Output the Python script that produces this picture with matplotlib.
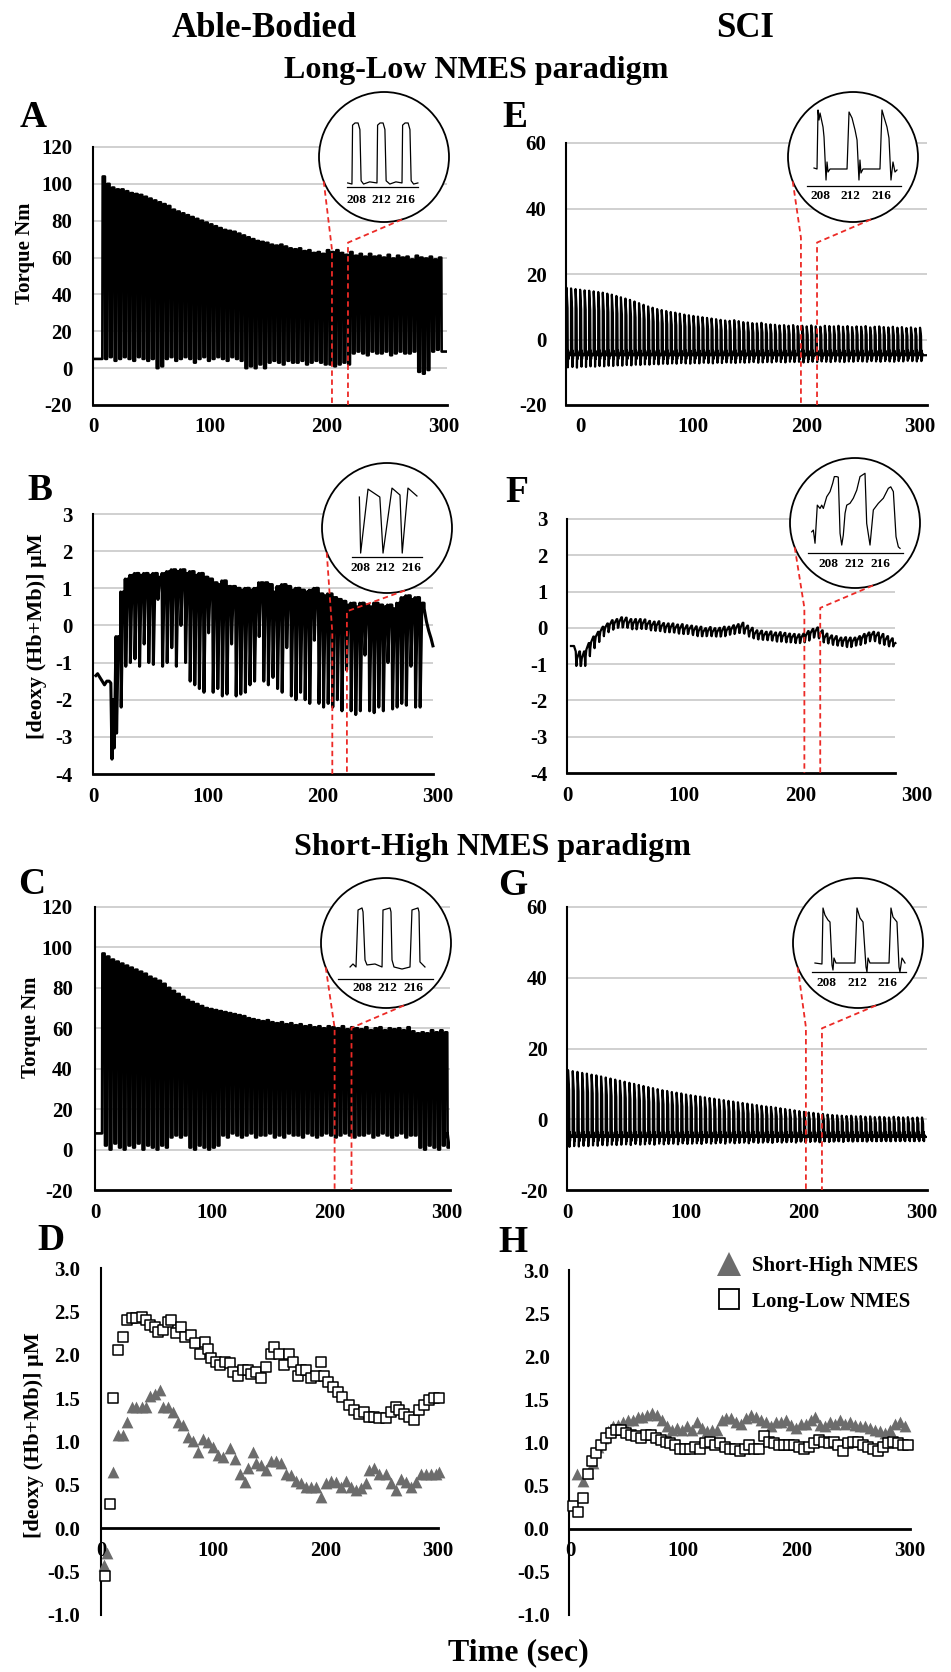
import numpy as np
import matplotlib
matplotlib.use("Agg")
import matplotlib.pyplot as plt
from matplotlib.lines import Line2D
from matplotlib.patches import Circle

# ======================= data =======================
PERIOD = 4.0                       # s between contractions (inset ticks 208/212/216)
X_TICKS = [0, 100, 200, 300]
ZOOM_TICKS = [208, 212, 216]
AB_TORQUE_TICKS = [-20, 0, 20, 40, 60, 80, 100, 120]
SCI_TORQUE_TICKS = [-20, 0, 20, 40, 60]
HB_TICKS = [-4, -3, -2, -1, 0, 1, 2, 3]
HB_MEAN_TICKS = [-1.0, -0.5, 0.0, 0.5, 1.0, 1.5, 2.0, 2.5, 3.0]

# ---- A: able-bodied torque, Long-Low (peak / between-contraction torque, Nm)
A_first = 8.0
A_peaks = [104, 100, 98, 97, 97, 96, 95, 94.5, 94, 93,
           92, 91, 90, 89, 88, 86, 85, 84, 83, 82,
           81, 80, 79, 78, 77, 76, 75, 74.5, 74, 73,
           72, 71, 70, 69, 68.5, 68, 67, 66.5, 67, 66,
           65, 64.5, 65, 63.5, 64, 62.5, 63, 62, 64, 63,
           64, 62.5, 61.5, 63, 61, 62, 60.5, 62, 60.5, 61,
           60, 61.5, 59.5, 61, 60, 60.5, 59, 61, 60, 59.5,
           60.5, 59, 60]
A_bases = [5, 6, 4, 5, 6, 5, 4, 6, 5, 4, 5,
           0, 1,
           5, 6, 4, 5, 6, 5, 3, 5, 6, 4, 5, 6, 5, 4, 6, 5, 4,
           0, 1, 0, 2, 0,
           3, 4, 3, 2, 4, 3, 3, 4, 2, 3, 4, 3, 2,
           2, 1, 2, 3, 2,
           8, 9, 8, 7, 9, 8, 8, 9, 7, 8, 9, 8, 8, 9,
           -2, -3, -1,
           9, 10, 9]
A_pre, A_post = 5.0, 9.0

# ---- C: able-bodied torque, Short-High
C_first = 6.0
C_peaks = [97, 95.5, 94, 93, 92, 91, 90, 89, 88, 87,
           85.5, 84.5, 83.5, 82, 80, 78.5, 77, 75.5, 74, 73,
           72, 71, 70, 69.5, 69, 68.5, 68, 67.5, 67, 66.5,
           66, 65, 64.5, 64, 63.5, 64, 63, 62.5, 63, 62,
           62.5, 61.5, 62, 61, 61.5, 60.5, 61, 60, 61, 60.5,
           60, 61, 59.5, 60.5, 60, 59.5, 60.5, 59, 60, 60.5,
           59, 60, 59.5, 60, 59, 60.5, 58.5, 57.5, 58, 57.5,
           59, 58, 59, 58]
C_bases = [2, 0, 3, 1, 0, 2, 1, 3, 0, 2, 1, 0, 2, 1,
           6, 7, 6, 7,
           1, 0, 2, 1, 0, 1, 2,
           7, 6, 8, 7, 6, 7, 8, 6, 7, 7, 8, 6, 7, 6, 8, 7, 7, 6, 8, 7,
           6, 7, 8, 7, 6, 7, 8, 7, 6, 7, 7, 8, 6, 7, 8, 7, 6, 7, 8, 6, 7, 7,
           1, 0, 2, 1, 0, 2, 1]
C_pre, C_post = 8.0, 8.0

# ---- E: SCI torque, Long-Low (peak and undershoot per contraction, Nm)
E_first = -12.0
E_base = -4.8
E_peaks = [15.8, 15.6, 15.4, 15.2, 15.0, 14.9, 14.7, 14.5, 14.3, 14.0,
           13.7, 13.3, 12.9, 12.5, 12.1, 11.6, 11.1, 10.6, 10.1, 9.7,
           9.3, 9.0, 8.7, 8.4, 8.2, 7.9, 7.6, 7.4, 7.2, 7.0,
           6.8, 6.6, 6.4, 6.2, 6.0, 5.8, 5.7, 5.9, 5.6, 5.3,
           5.2, 5.0, 4.9, 5.1, 4.7, 4.6, 4.5, 4.3, 4.4, 4.2,
           4.4, 4.1, 4.2, 4.0, 4.3, 4.0, 3.9, 4.2, 4.1, 4.0,
           4.2, 3.9, 4.1, 3.8, 4.0, 3.9, 4.1, 3.7, 3.9, 4.0,
           3.8, 3.7, 3.9, 3.6, 3.8, 3.5, 3.7, 3.4, 3.6]
E_lows = [-8.5, -8.4, -8.6, -8.3, -8.4, -8.2, -8.3, -8.1, -8.2, -8.0,
          -8.1, -7.9, -8.0, -7.8, -7.9, -7.7, -7.8, -7.6, -7.7, -7.5,
          -7.6, -7.4, -7.5, -7.3, -7.4, -7.2, -7.3, -7.4, -7.2, -7.3,
          -7.1, -7.2, -7.3, -7.1, -7.2, -7.0, -7.1, -7.2, -7.0, -7.1,
          -7.0, -6.9, -7.1, -7.0, -6.9, -7.0, -6.8, -6.9, -7.0, -6.8,
          -6.9, -6.8, -7.0, -6.9, -6.8, -6.9, -6.7, -6.8, -6.9, -6.7,
          -6.8, -6.9, -6.7, -6.8, -6.6, -6.7, -6.8, -6.6, -6.7, -6.8,
          -6.6, -6.7, -6.8, -6.6, -6.7, -6.5, -6.6, -6.7, -6.6]

# ---- G: SCI torque, Short-High
G_first = 0.0
G_base = -5.0
G_peaks = [13.9, 13.6, 13.4, 13.1, 12.9, 12.6, 12.4, 12.1, 11.8, 11.5,
           11.2, 10.9, 10.6, 10.3, 10.0, 9.7, 9.4, 9.1, 8.8, 8.5,
           8.2, 8.0, 7.7, 7.5, 7.3, 7.0, 6.8, 6.6, 6.4, 6.2,
           6.0, 5.8, 5.6, 5.4, 5.2, 5.0, 4.8, 4.6, 4.4, 4.2,
           4.0, 3.8, 3.6, 3.5, 3.3, 3.1, 2.9, 2.7, 2.5, 2.3,
           2.1, 1.9, 1.8, 1.6, 1.5, 1.3, 1.2, 1.1, 1.0, 0.9,
           1.0, 0.8, 0.9, 0.7, 0.8, 0.6, 0.7, 0.6, 0.5, 0.7,
           0.6, 0.5, 0.6, 0.4, 0.5, 0.5]
G_lows = [-7.8, -7.6, -7.7, -7.5, -7.6, -7.4, -7.5, -7.3, -7.4, -7.2,
          -7.3, -7.2, -7.1, -7.3, -7.0, -7.2, -7.1, -7.0, -7.2, -6.9,
          -7.1, -7.0, -6.9, -7.1, -6.8, -7.0, -6.9, -6.8, -7.0, -6.7,
          -6.9, -6.8, -6.7, -6.9, -6.6, -6.8, -6.7, -6.6, -6.8, -6.5,
          -6.7, -6.6, -6.5, -6.7, -6.4, -6.6, -6.5, -6.4, -6.6, -6.3,
          -6.5, -6.4, -6.3, -6.5, -6.2, -6.4, -6.3, -6.2, -6.4, -6.1,
          -6.3, -6.2, -6.1, -6.3, -6.0, -6.2, -6.1, -6.0, -6.2, -5.9,
          -6.1, -6.0, -5.9, -6.1, -5.8, -6.0]

# ---- B: able-bodied [deoxy(Hb+Mb)], Long-Low (uM): high / low per contraction
B_pre_t = [2.5, 4.0, 6.0, 8.0, 10.0, 12.0, 14.0, 15.5, 16.5, 17.5, 18.5, 19.5]
B_pre_v = [-1.35, -1.3, -1.4, -1.5, -1.6, -1.5, -1.5, -1.55, -3.6, -2.0, -3.3, -1.2]
B_first = 20.0
B_high = [-0.3, 0.9, 1.25, 1.35, 1.4, 1.35, 1.4, 1.35, 1.4, 1.3,
          1.4, 1.45, 1.5, 1.45, 1.5, 1.4, 1.45, 1.35, 1.4, 1.3,
          1.25, 1.15, 1.1, 1.2, 1.05, 1.05, 1.0, 0.95, 1.0, 0.95,
          1.0, 1.15, 1.15, 1.1, 0.9, 1.05, 1.1, 1.05, 0.95, 1.0,
          0.95, 0.9, 0.95, 1.0, 0.85, 0.8, 0.85, 0.75, 0.7, 0.65,
          0.55, 0.6, 0.5, 0.6, 0.55, 0.5, 0.6, 0.55, 0.5, 0.55,
          0.45, 0.6, 0.75, 0.8, 0.7, 0.75, 0.6]
B_low = [-2.9, -2.2, -1.1, -1.0, -0.9, -1.1, -0.5, -1.0, -1.05, 0.7,
         -1.1, -1.0, -0.6, -1.1, 0.0, -1.0, -1.5, -1.6, -1.7, -1.8,
         -0.2, -1.8, -1.7, -1.9, -1.85, -0.5, -1.9, -1.85, -1.8, -1.6,
         -1.5, -0.3, -1.5, -1.6, -1.4, -1.7, -1.8, -0.6, -1.9, -2.0,
         -1.8, -2.0, -2.1, -0.4, -2.1, -2.2, -2.1, -2.2, -2.0, -2.3,
         -1.2, -2.3, -2.4, -2.3, -0.8, -2.3, -2.35, -2.2, -2.3, -1.0,
         -2.25, -2.2, -2.1, -2.15, -1.1, -2.2, -2.2]
B_post_t = [288.0, 290.0, 292.0, 294.0, 295.6]
B_post_v = [0.45, 0.1, -0.15, -0.35, -0.55]

# ---- F: SCI [deoxy(Hb+Mb)], Long-Low: level and half-swing per contraction
F_pre_t = [3.4, 6.0, 7.5]
F_pre_v = [-0.5, -0.5, -0.65]
F_first = 8.0
F_level = [-0.85, -0.85, -0.6, -0.4, -0.25, -0.1, 0.0, 0.08, 0.12, 0.15,
           0.15, 0.12, 0.1, 0.12, 0.1, 0.08, 0.05, 0.05, 0.02, 0.0,
           0.0, -0.02, -0.03, -0.05, -0.05, -0.08, -0.1, -0.12, -0.1, -0.12,
           -0.12, -0.1, -0.08, -0.05, -0.02, 0.0, -0.05, -0.12, -0.18, -0.2,
           -0.22, -0.22, -0.24, -0.25, -0.25, -0.28, -0.28, -0.3, -0.28, -0.22,
           -0.15, -0.12, -0.18, -0.28, -0.32, -0.35, -0.38, -0.38, -0.4, -0.38,
           -0.35, -0.3, -0.25, -0.22, -0.25, -0.3, -0.35, -0.4]
F_swing = [0.2, 0.2, 0.18, 0.16, 0.14, 0.13, 0.12, 0.13, 0.12, 0.14,
           0.13, 0.12, 0.14, 0.12, 0.13, 0.11, 0.12, 0.13, 0.11, 0.12,
           0.12, 0.11, 0.13, 0.12, 0.11, 0.12, 0.13, 0.11, 0.12, 0.11,
           0.12, 0.13, 0.11, 0.12, 0.12, 0.14, 0.11, 0.12, 0.11, 0.12,
           0.11, 0.12, 0.11, 0.13, 0.11, 0.12, 0.11, 0.12, 0.12, 0.13,
           0.12, 0.13, 0.11, 0.12, 0.11, 0.12, 0.11, 0.12, 0.13, 0.11,
           0.12, 0.13, 0.12, 0.11, 0.12, 0.13, 0.12, 0.11]
F_post_t = [280.0, 281.4]
F_post_v = [-0.45, -0.42]

# ---- zoomed traces shown in the circles (t in s)
A_zoom_t = [206.5, 207.2, 207.3, 207.7, 208.2, 208.5, 208.7, 209.1, 210.1, 211.3, 211.4, 211.8, 212.3,
            212.6, 212.8, 213.4, 214.4, 215.4, 215.5, 215.9, 216.4, 216.7, 216.9, 217.3, 218.0]
A_zoom_v = [5, 4, 58, 60, 60, 54, 7, 4, 6, 5, 58, 60, 60, 54, 7, 4, 6, 5, 58, 60, 60, 54, 7, 4, 5]
E_zoom_t = [207.22, 207.61, 207.74, 207.87, 208.0, 208.39, 208.52, 208.78, 208.91, 209.04, 209.3,
            211.51, 211.77, 212.16, 212.55, 212.81, 213.06, 213.19, 213.32, 213.58,
            215.79, 216.05, 216.31, 216.7, 216.96, 217.22, 217.48, 217.74, 218.0]
E_zoom_v = [-4.85, -5.0, 4.0, 2.47, 3.54, 1.4, -0.12, -6.68, -3.93, -5.46, -5.0,
            -5.0, 3.69, 2.77, 0.95, -0.58, -6.68, -3.63, -5.61, -5.0,
            -5.0, 4.0, 2.93, 1.4, -0.27, -6.68, -3.93, -5.46, -5.15]
B_zoom_t = [207.9, 208.1, 209.25, 211.1, 211.6, 213.0, 214.25, 214.6, 215.5, 216.9]
B_zoom_v = [0.19, -2.0, 0.5, 0.19, -2.0, 0.54, 0.27, -2.0, 0.54, 0.23]
F_zoom_t = [205.49, 205.74, 206.0, 206.35, 206.77, 207.03, 207.28, 207.8, 208.31, 208.72,
            208.97, 209.34, 209.58, 209.85, 210.11, 210.35, 210.62, 210.88, 211.38, 211.89,
            212.42, 212.92, 213.69, 213.95, 214.46, 214.97, 215.74, 216.51, 217.28, 217.65,
            218.05, 218.46, 218.82, 219.08]
F_zoom_v = [0.04, 0.1, -0.34, 0.93, 0.82, 0.93, 0.82, 1.21, 1.38, 1.66,
            1.88, 1.88, 1.86, -0.01, -0.4, -0.07, 0.66, 0.93, 0.99, 1.16,
            1.43, 1.88, 1.99, 0.32, -0.4, 0.77, 0.99, 1.16, 1.49, 1.54,
            1.38, -0.12, -0.46, -0.51]
C_zoom_t = [206.13, 206.59, 207.06, 207.38, 208.0, 208.16, 208.47, 208.78, 210.03, 211.13, 211.28,
            212.38, 212.53, 212.69, 213.0, 214.25, 215.5, 215.81, 216.75, 216.91, 217.06, 217.84]
C_zoom_v = [5, 7.8, 5, 58.1, 60, 56.3, 11.5, 6.9, 7.8, 5, 58.1, 60, 56.3, 11.5, 5, 3.1, 5,
            58.1, 60, 56.3, 9.7, 5]
G_zoom_t = [206.4, 207.33, 207.47, 207.73, 208.13, 208.4, 208.67, 208.8, 208.93, 209.2,
            211.73, 212.0, 212.4, 212.8, 213.2, 213.33, 213.47, 213.73,
            216.27, 216.53, 216.8, 217.33, 217.6, 217.73, 218.0, 218.4]
G_zoom_v = [-5, -5.16, 4.0, 2.86, 2.04, 1.71, -5.33, -6.15, -4.18, -5,
            -5, 4.0, 2.36, 1.71, -5.65, -6.47, -4.18, -5,
            -5, 4.0, 2.53, 1.71, -5.65, -6.47, -4.18, -5]

# ---- D / H: contraction-averaged [deoxy(Hb+Mb)] (uM)
D_long_t = [3.5, 8.0, 10.9, 15.4, 19.8, 22.8, 27.2, 31.6, 36.1, 40.5,
            43.5, 47.9, 50.9, 55.3, 59.7, 62.7, 67.1, 71.6, 74.5, 80.5,
            83.4, 87.8, 92.3, 95.2, 98.2, 102.7, 105.6, 110.0, 114.5, 117.4,
            121.8, 126.3, 130.7, 133.7, 138.2, 142.6, 147.0, 151.5, 154.4, 158.8,
            163.3, 167.7, 170.6, 175.1, 178.0, 182.5, 186.9, 191.4, 195.8, 198.8,
            201.7, 206.1, 210.6, 215.0, 220.9, 225.4, 229.8, 234.2, 238.7, 243.1,
            247.6, 253.5, 257.9, 262.4, 265.3, 269.7, 274.2, 278.6, 283.0, 287.5,
            291.9, 296.4, 300.8]
D_long_v = [-0.55, 0.28, 1.50, 2.05, 2.21, 2.40, 2.42, 2.42, 2.44, 2.40,
            2.34, 2.32, 2.26, 2.28, 2.38, 2.40, 2.25, 2.32, 2.21, 2.23,
            2.13, 2.01, 2.15, 2.07, 1.96, 1.92, 1.88, 1.92, 1.90, 1.80,
            1.75, 1.82, 1.82, 1.78, 1.80, 1.73, 1.86, 2.01, 2.09, 2.01,
            1.88, 2.01, 1.92, 1.75, 1.82, 1.82, 1.73, 1.75, 1.92, 1.76,
            1.69, 1.63, 1.57, 1.51, 1.42, 1.36, 1.32, 1.34, 1.28, 1.28,
            1.27, 1.27, 1.34, 1.40, 1.36, 1.32, 1.28, 1.25, 1.36, 1.42,
            1.48, 1.50, 1.50]
D_short_t = [3.0, 5.5, 10.9, 15.4, 19.8, 22.8, 27.2, 31.6, 36.1, 40.5,
             43.5, 47.9, 52.4, 55.3, 59.7, 64.2, 68.6, 73.0, 77.5, 81.9,
             86.4, 90.8, 95.2, 99.7, 104.1, 108.6, 114.5, 118.9, 123.4, 127.8,
             130.7, 135.2, 138.2, 142.6, 147.0, 151.5, 155.9, 160.3, 164.8, 169.2,
             173.6, 178.0, 182.5, 186.9, 191.4, 195.8, 200.3, 204.7, 209.2, 213.6,
             218.1, 222.5, 226.9, 231.4, 235.8, 238.7, 243.1, 247.6, 253.5, 257.9,
             262.4, 266.8, 271.3, 275.7, 280.1, 284.6, 289.0, 293.5, 297.9, 300.8]
D_short_v = [-0.42, -0.28, 0.65, 1.07, 1.07, 1.23, 1.40, 1.40, 1.40, 1.40,
             1.53, 1.55, 1.59, 1.40, 1.40, 1.34, 1.23, 1.19, 1.05, 1.01,
             0.88, 1.03, 1.00, 0.94, 0.84, 0.82, 0.92, 0.80, 0.63, 0.53,
             0.69, 0.88, 0.75, 0.73, 0.67, 0.77, 0.78, 0.75, 0.63, 0.61,
             0.55, 0.52, 0.48, 0.48, 0.48, 0.36, 0.52, 0.55, 0.53, 0.48,
             0.55, 0.48, 0.44, 0.46, 0.52, 0.67, 0.69, 0.63, 0.63, 0.52,
             0.44, 0.57, 0.53, 0.48, 0.53, 0.63, 0.63, 0.63, 0.63, 0.65]
H_long_t = [2.9, 7.2, 11.6, 16.0, 19.8, 23.2, 27.6, 32.0, 36.3, 40.7,
            45.0, 49.4, 53.8, 58.1, 62.5, 66.8, 71.2, 75.6, 79.9, 84.3,
            88.6, 93.0, 97.4, 101.7, 106.1, 110.5, 114.8, 119.2, 123.5, 127.9,
            132.3, 136.6, 141.0, 145.3, 149.7, 154.1, 158.4, 162.8, 167.2, 171.5,
            175.9, 180.2, 184.6, 189.0, 193.3, 197.7, 202.0, 206.4, 210.8, 215.1,
            219.5, 223.8, 228.2, 232.6, 236.9, 241.3, 245.7, 250.0, 254.4, 258.7,
            263.1, 267.5, 271.8, 276.2, 280.6, 284.9, 289.3, 293.6, 298.0]
H_long_v = [0.26, 0.20, 0.36, 0.63, 0.78, 0.88, 0.97, 1.05, 1.11, 1.15,
            1.15, 1.11, 1.09, 1.07, 1.05, 1.09, 1.09, 1.05, 1.03, 1.01,
            0.99, 0.97, 0.93, 0.93, 0.93, 0.95, 0.93, 0.99, 1.01, 0.97,
            0.99, 0.95, 0.93, 0.92, 0.90, 0.93, 0.97, 0.92, 0.93, 1.07,
            1.01, 0.99, 0.97, 0.97, 0.97, 0.97, 0.95, 0.93, 0.95, 0.99,
            1.03, 1.01, 0.99, 1.01, 0.97, 0.90, 0.99, 1.01, 1.01, 0.97,
            0.95, 0.93, 0.90, 0.95, 0.99, 1.01, 0.99, 0.97, 0.97]
H_short_t = [6.0, 11.6, 16.0, 20.3, 24.7, 29.0, 33.4, 37.8, 42.1, 46.5,
             50.9, 55.2, 59.6, 63.9, 68.3, 72.7, 77.0, 81.4, 85.7, 90.1,
             94.5, 98.8, 103.2, 107.5, 111.9, 116.3, 120.6, 125.0, 129.4, 133.7,
             138.1, 142.5, 146.8, 151.2, 155.5, 159.9, 164.3, 168.6, 173.0, 177.4,
             181.7, 186.1, 190.4, 194.8, 199.2, 203.5, 207.9, 212.3, 216.6, 221.0,
             225.4, 229.7, 234.1, 238.4, 242.8, 247.2, 251.5, 255.9, 260.3, 264.6,
             269.0, 273.4, 277.7, 282.1, 286.4, 290.8, 295.2]
H_short_v = [0.63, 0.55, 0.65, 0.76, 0.95, 1.05, 1.13, 1.19, 1.20, 1.24,
             1.26, 1.26, 1.30, 1.30, 1.32, 1.34, 1.32, 1.26, 1.19, 1.15,
             1.17, 1.15, 1.19, 1.15, 1.24, 1.17, 1.13, 1.15, 1.15, 1.26,
             1.28, 1.28, 1.24, 1.22, 1.28, 1.32, 1.30, 1.26, 1.24, 1.19,
             1.24, 1.24, 1.26, 1.20, 1.17, 1.22, 1.22, 1.26, 1.30, 1.20,
             1.19, 1.24, 1.22, 1.26, 1.22, 1.24, 1.20, 1.19, 1.19, 1.17,
             1.15, 1.13, 1.11, 1.15, 1.22, 1.24, 1.19]

# zoom window (s) marked by the red dashed lines, and the knee level of each line
A_window, A_knee = (204.6, 218.3), (64.3, 68.1)
E_window, E_knee = (195.0, 209.2), (31.1, 29.6)
B_window, B_knee = (208.1, 220.8), (-0.19, 0.38)
F_window, F_knee = (203.4, 217.0), (0.55, 0.55)
C_window, C_knee = (204.2, 218.6), (60.2, 60.2)
G_window, G_knee = (201.7, 215.3), (26.0, 25.7)

# ======================= drawing =======================
W, H = 951, 1672
SERIF = ['Liberation Serif', 'DejaVu Serif']
plt.rcParams['font.family'] = SERIF
plt.rcParams['font.weight'] = 'bold'
plt.rcParams['axes.unicode_minus'] = False
fig = plt.figure(figsize=(W / 100, H / 100), dpi=100)

GRID = '#c8c8c8'
RED = '#ec2a26'
GRAY = '#6c6c6c'
TICK_FS = 15


def make_axes(px0, ppu, xlim, ylim, top, bot):
    left = px0 + xlim[0] * ppu
    right = px0 + xlim[1] * ppu
    ax = fig.add_axes([left / W, 1 - bot / H, (right - left) / W, (bot - top) / H])
    ax.set_xlim(xlim)
    ax.set_ylim(ylim)
    ax.patch.set_alpha(0)
    return ax


def style_trace(ax, yticks, grid_end, ypad=15):
    ax.set_xticks(X_TICKS)
    ax.set_yticks(yticks)
    ax.tick_params(length=0, labelsize=TICK_FS)
    ax.tick_params(axis='y', pad=ypad)
    ax.tick_params(axis='x', pad=9)
    for s in ('top', 'right'):
        ax.spines[s].set_visible(False)
    ax.spines['left'].set_linewidth(1.5)
    ax.spines['bottom'].set_linewidth(2.0)
    x0 = ax.get_xlim()[0]
    ax.spines['bottom'].set_bounds(x0, grid_end)
    ax.hlines(yticks[1:], x0, grid_end, colors=GRID, lw=1.2, zorder=0, clip_on=False)


def square_train(first, peaks, bases, pre, post, t_lo, t_hi, on=2.5, ramp=0.3):
    t, v = [t_lo], [pre]
    prev = pre
    for i, (p, b) in enumerate(zip(peaks, bases)):
        t0 = first + PERIOD * i
        t += [t0, t0 + ramp, t0 + on - ramp, t0 + on, t0 + PERIOD - 0.05]
        v += [prev, p, p, b, b]
        prev = b
    t.append(t_hi)
    v.append(post)
    return t, v


def spike_train(first, peaks, lows, base, t_lo, t_hi):
    t, v = [t_lo], [base]
    for i, (p, lo) in enumerate(zip(peaks, lows)):
        t0 = first + PERIOD * i
        t += [t0, t0 + 0.1, t0 + 1.0, t0 + 1.3, t0 + 1.55, t0 + 1.8, t0 + 2.1, t0 + 2.4]
        v += [base, p, base + 0.7 * (p - base), lo, base + 1.4, base - 1.2, base + 0.6, base]
    t.append(t_hi)
    v.append(base)
    return t, v


def nirs_train(first, highs, lows):
    t, v = [], []
    for i, (h, lo) in enumerate(zip(highs, lows)):
        t0 = first + PERIOD * i
        t += [t0, t0 + 0.5, t0 + 2.0, t0 + PERIOD - 0.05]
        v += [h, lo, h, h]
    return t, v


def level_train(first, levels, swings):
    t, v = [], []
    for i, (lv, s) in enumerate(zip(levels, swings)):
        t0 = first + PERIOD * i
        t += [t0, t0 + 0.6, t0 + 2.6, t0 + 3.1, t0 + 3.6]
        v += [lv - s, lv, lv + s, lv + s, lv - s]
    return t, v


def inset(cx, cy, r, xlim, ylim, t, v, axis_v, axis_t, label_v):
    ins = fig.add_axes([(cx - r) / W, 1 - (cy + r) / H, 2 * r / W, 2 * r / H])
    ins.set_xlim(xlim)
    ins.set_ylim(ylim)
    ins.set_axis_off()
    ins.add_patch(Circle((0.5, 0.5), 0.5, transform=ins.transAxes, facecolor='white',
                         edgecolor='black', lw=1.3, zorder=0, clip_on=False))
    ins.plot(t, v, color='black', lw=0.9, zorder=2)
    ins.plot(axis_t, [axis_v, axis_v], color='black', lw=0.9, zorder=2)
    for tk in ZOOM_TICKS:
        ins.text(tk, label_v, str(tk), ha='center', va='center', fontsize=9.5, zorder=3)
    return ins


def connectors(ax, ins, window, knees, angles=(202, 286)):
    inv = fig.transFigure.inverted()
    for xw, yk, ang in zip(window, knees, angles):
        a = np.deg2rad(ang)
        p0 = ins.transAxes.transform((0.5 + 0.5 * np.cos(a), 0.5 + 0.5 * np.sin(a)))
        p1 = ax.transData.transform((xw, yk))
        p2 = ax.transData.transform((xw, ax.get_ylim()[0]))
        pts = inv.transform(np.array([p0, p1, p2]))
        fig.add_artist(Line2D(pts[:, 0], pts[:, 1], transform=fig.transFigure, color=RED,
                              lw=1.3, ls=(0, (3, 2)), zorder=5))


# ---------- A ----------
axA = make_axes(93, 1.168, (0, 303), (-20, 120), 147, 405)
style_trace(axA, AB_TORQUE_TICKS, 303)
t, v = square_train(A_first, A_peaks, A_bases, A_pre, A_post, 0, 303)
axA.plot(t, v, color='black', lw=1.9)
insA = inset(384, 157, 65, (201.8, 223.1), (-30.8, 88.4), A_zoom_t, A_zoom_v, 1.3, (206.4, 218.0), -10.6)
connectors(axA, insA, A_window, A_knee)

# ---------- E ----------
axE = make_axes(580, 1.133, (-12.4, 306.3), (-20, 60), 143, 405)
style_trace(axE, SCI_TORQUE_TICKS, 306.3, ypad=14)
t, v = spike_train(E_first, E_peaks, E_lows, E_base, -12.4, 306.3)
axE.plot(t, v, color='black', lw=1.6)
insE = inset(853, 157, 65, (203.84, 220.73), (-13.08, 6.74), E_zoom_t, E_zoom_v, -7.59, (206.31, 218.52), -9.12)
connectors(axE, insE, E_window, E_knee)

# ---------- B ----------
axB = make_axes(90.06, 1.177, (2.5, 295.6), (-4, 3), 514, 774)
style_trace(axB, HB_TICKS, 295.6)
tb, vb = nirs_train(B_first, B_high, B_low)
axB.plot(B_pre_t + tb + B_post_t, B_pre_v + vb + B_post_v, color='black', lw=2.2)
insB = inset(387, 528, 65, (202.06, 222.38), (-3.56, 1.52), B_zoom_t, B_zoom_v, -2.16, (206.75, 217.69), -2.59)
connectors(axB, insB, B_window, B_knee)

# ---------- F ----------
axF = make_axes(563, 1.18, (3.4, 307), (-4, 3), 519, 773)
style_trace(axF, HB_TICKS, 281.4, ypad=14)
tf, vf = level_train(F_first, F_level, F_swing)
axF.plot(F_pre_t + tf + F_post_t, F_pre_v + vf + F_post_v, color='black', lw=1.6)
insF = inset(855, 523, 65, (202.15, 222.15), (-1.83, 2.5), F_zoom_t, F_zoom_v, -0.67, (204.92, 219.54), -1.03)
connectors(axF, insF, F_window, F_knee)

# ---------- C ----------
axC = make_axes(93, 1.18, (1.7, 302.5), (-20, 120), 907, 1190)
style_trace(axC, AB_TORQUE_TICKS, 302.5, ypad=16)
t, v = square_train(C_first, C_peaks, C_bases, C_pre, C_post, 1.7, 300.5)
axC.plot(t, v, color='black', lw=1.9)
insC = inset(386, 943, 65, (201.59, 221.91), (-33.2, 87.9), C_zoom_t, C_zoom_v, -6.18, (204.25, 219.09), -14.6)
connectors(axC, insC, C_window, C_knee)

# ---------- G ----------
axG = make_axes(567.9, 1.18, (-0.8, 304.2), (-20, 60), 907, 1190)
style_trace(axG, SCI_TORQUE_TICKS, 304.2, ypad=14)
t, v = spike_train(G_first, G_peaks, G_lows, G_base, -0.8, 304.2)
axG.plot(t, v, color='black', lw=1.6)
insG = inset(858, 943, 65, (203.47, 220.8), (-12.36, 8.91), G_zoom_t, G_zoom_v, -6.47, (206.0, 218.53), -8.27)
connectors(axG, insG, G_window, G_knee)


# ---------- D / H ----------
def style_mean(ax, ypad):
    ax.set_xticks(X_TICKS)
    ax.set_yticks(HB_MEAN_TICKS)
    ax.set_yticklabels([f'{y:.1f}' for y in HB_MEAN_TICKS])
    ax.tick_params(length=0, labelsize=TICK_FS)
    ax.tick_params(axis='y', pad=ypad)
    ax.tick_params(axis='x', pad=9)
    for s in ('top', 'right'):
        ax.spines[s].set_visible(False)
    ax.spines['left'].set_linewidth(1.5)
    ax.spines['bottom'].set_linewidth(2.0)
    ax.spines['bottom'].set_position(('data', 0))


axD = make_axes(101, 1.127, (0, 299), (-1, 3), 1268, 1615)
style_mean(axD, 15)
axD.scatter(D_short_t, D_short_v, marker='^', s=72, color=GRAY, linewidths=0, zorder=3, clip_on=False)
axD.scatter(D_long_t, D_long_v, marker='s', s=62, facecolors='white', edgecolors='black',
            linewidths=1.1, zorder=4, clip_on=False)

axH = make_axes(570, 1.147, (-0.9, 296.4), (-1, 3), 1270, 1615)
style_mean(axH, 14)
axH.scatter(H_short_t, H_short_v, marker='^', s=72, color=GRAY, linewidths=0, zorder=3, clip_on=False)
axH.scatter(H_long_t, H_long_v, marker='s', s=62, facecolors='white', edgecolors='black',
            linewidths=1.1, zorder=4, clip_on=False)
handles = [Line2D([], [], ls='', marker='^', color=GRAY, markersize=17, markeredgewidth=0),
           Line2D([], [], ls='', marker='s', markerfacecolor='white', markeredgecolor='black',
                  markeredgewidth=1.3, markersize=15)]
axH.legend(handles, ['Short-High NMES', 'Long-Low NMES'], loc='upper left',
           bbox_to_anchor=(716 / W, 1 - 1256 / H), bbox_transform=fig.transFigure,
           frameon=False, fontsize=15, handlelength=1.2, handletextpad=0.55,
           labelspacing=0.75, borderpad=0, borderaxespad=0)

# ---------- text ----------
def ftext(x, y, s, **kw):
    fig.text(x / W, 1 - y / H, s, **kw)


ftext(264, 37, 'Able-Bodied', ha='center', va='baseline', fontsize=25)
ftext(745, 37, 'SCI', ha='center', va='baseline', fontsize=25)
ftext(476, 78, 'Long-Low NMES paradigm', ha='center', va='baseline', fontsize=23)
ftext(492, 855, 'Short-High NMES paradigm', ha='center', va='baseline', fontsize=23)
ftext(518, 1660, 'Time (sec)', ha='center', va='baseline', fontsize=23)

for letter, x, y in [('A', 20, 127), ('E', 502, 127), ('B', 27, 500), ('F', 505, 502),
                     ('C', 18, 894), ('G', 498, 895), ('D', 37, 1250), ('H', 498, 1252)]:
    ftext(x, y, letter, ha='left', va='baseline', fontsize=27)

ftext(25, 253, 'Torque Nm', rotation=90, ha='center', va='center', fontsize=15)
ftext(31, 1027, 'Torque Nm', rotation=90, ha='center', va='center', fontsize=15)
ftext(37, 636, '[deoxy (Hb+Mb)] \u03bcM', rotation=90, ha='center', va='center', fontsize=16)
ftext(34, 1435, '[deoxy (Hb+Mb)] \u03bcM', rotation=90, ha='center', va='center', fontsize=16)

fig.savefig('out.png', dpi=100)
